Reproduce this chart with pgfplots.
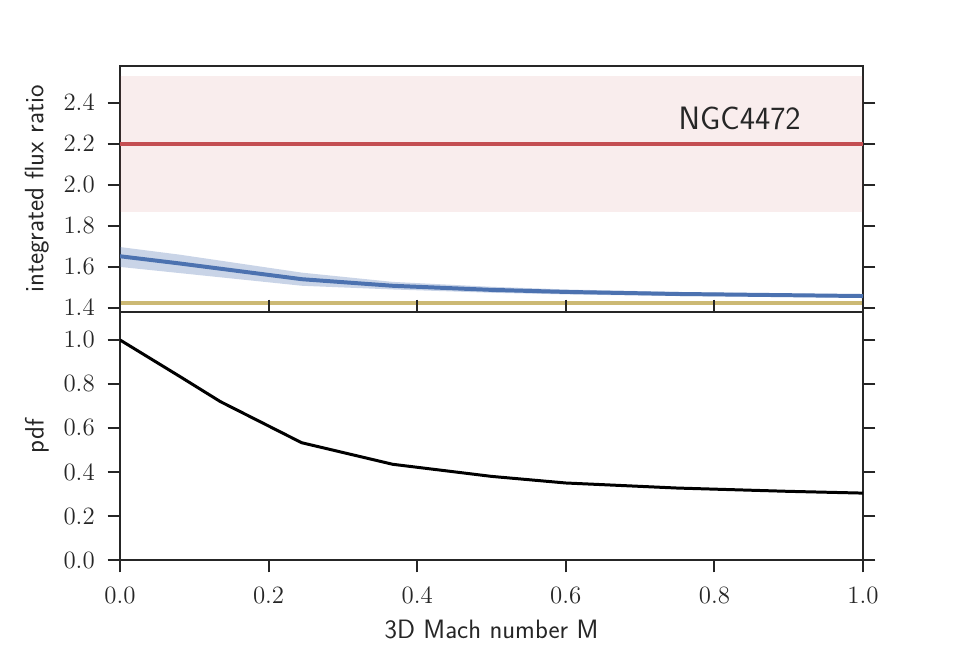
\RequirePackage{fix-cm}
\documentclass[border=0pt]{standalone}
\usepackage{pgfplots}
\pgfplotsset{compat=1.18}
\definecolor{spine}{RGB}{38,38,38}
\definecolor{sblue}{RGB}{76,114,176}
\definecolor{sred}{RGB}{196,78,82}
\definecolor{sgold}{RGB}{204,185,116}
\pgfplotsset{
  common/.style={
    scale only axis,
    width=447.47pt,
    xmin=0, xmax=1,
    axis line style={spine, line width=1.6pt},
    every tick/.style={spine, line width=1.2pt},
    major tick length=7.5pt,
    tick align=outside,
    ytick pos=both,
    tick label style={font=\fontsize{15}{18}\selectfont, text=spine},
    label style={font=\sffamily\fontsize{16}{19}\selectfont, text=spine},
    xticklabel style={yshift=-5.5pt, /pgf/number format/fixed, /pgf/number format/fixed zerofill, /pgf/number format/precision=1},
    yticklabel style={xshift=-4.2pt, /pgf/number format/fixed, /pgf/number format/fixed zerofill, /pgf/number format/precision=1},
  },
}
\begin{document}
\begin{tikzpicture}
\path[use as bounding box] (0,0) rectangle (578.16pt,397.5pt);
% top axis
\begin{axis}[common,
  at={(72.27pt,209.58pt)}, anchor=south west,
  height=148.15pt,
  ymin=1.38, ymax=2.58,
  ytick={1.4,1.6,1.8,2.0,2.2,2.4},
  xtick=\empty,
  ylabel={integrated flux ratio},
  ylabel style={at={(axis description cs:-0.112,0.5)}, anchor=center},
]
\addplot[fill=sred, fill opacity=0.1, draw=none] coordinates {(0,1.87) (1,1.87) (1,2.53) (0,2.53)} -- cycle;
\addplot[sred, line width=2.4pt] coordinates {(0,2.2) (1,2.2)};
\addplot[fill=sblue, fill opacity=0.3, draw=none] coordinates {
 (0,1.697) (0.08,1.660) (0.245,1.572) (0.367,1.527) (0.5,1.503) (0.6,1.490) (0.75,1.478) (0.9,1.470) (1.0,1.466)
 (1.0,1.450) (0.9,1.454) (0.75,1.458) (0.6,1.466) (0.5,1.474) (0.367,1.490) (0.245,1.508) (0.08,1.570) (0,1.600)} -- cycle;
\addplot[sblue, line width=2.4pt] coordinates {
 (0,1.652) (0.08,1.617) (0.245,1.540) (0.367,1.508) (0.5,1.488) (0.6,1.478) (0.75,1.468) (0.9,1.462) (1.0,1.458)};
\addplot[sgold, line width=2.4pt] coordinates {(0,1.425) (1,1.425)};
\node[font=\sffamily\fontsize{19.5}{23}\selectfont, text=spine] at (axis cs:0.834,2.325) {NGC4472};
\end{axis}
% bottom axis
\begin{axis}[common,
  at={(72.27pt,60.23pt)}, anchor=south west,
  height=149.36pt,
  ymin=0, ymax=1.127,
  ytick={0,0.2,0.4,0.6,0.8,1.0},
  xtick={0,0.2,0.4,0.6,0.8,1.0},
  xtick pos=both,
  xlabel={3D Mach number M},
  ylabel={pdf},
  ylabel style={at={(axis description cs:-0.112,0.5)}, anchor=center},
  xlabel style={at={(axis description cs:0.5,-0.28)}, anchor=center},
]
\addplot[black, line width=1.8pt] coordinates {
 (0,1.0) (0.081,0.833) (0.135,0.72) (0.2445,0.533) (0.367,0.435) (0.5,0.380) (0.6,0.350) (0.75,0.327) (0.9,0.312) (1.0,0.304)};
\end{axis}
\end{tikzpicture}
\end{document}
